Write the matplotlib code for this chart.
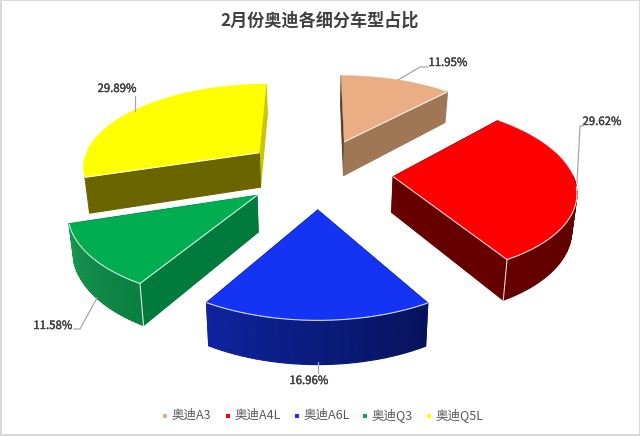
import numpy as np
import matplotlib
matplotlib.use('Agg')
import matplotlib.pyplot as plt
import matplotlib.patheffects as pe
from matplotlib.patches import Polygon, Rectangle

plt.rcParams['font.family'] = ['Noto Sans CJK SC', 'DejaVu Sans']

title = '2月份奥迪各细分车型占比'
names = ['奥迪A3', '奥迪A4L', '奥迪A6L', '奥迪Q3', '奥迪Q5L']
shares = [11.95, 29.62, 16.96, 11.58, 29.89]

top_colors = ['#EBAD83', '#FF0000', '#1433F2', '#00AD50', '#FFFF00']
side_colors = ['#A07755', '#660000', '#0B1F8E', '#007B3C', '#6B6500']
arc_first = ['#A07755', '#5C0000', '#06135C', '#0A7F40', '#C9C600']
arc_last = ['#A07755', '#640000', '#0F239E', '#179550', '#C9C600']
back_colors = ['#5A3F2C', '#660000', '#0B1F8E', '#007B3C', '#C9C600']

# perspective of the chart floor, in pixels
CX, CY, F, G, A = 318.0, 172.8, 179.0, 83.4, 0.139
EXPLODE = 0.42
DEPTH = 35.5
SHRINK = 0.02


def project(x, y, low=False):
    w = 1 + A * y
    sx = F * x / w
    sy = CY - G * y / w
    if low:
        return CX + sx * (1 - SHRINK), sy + DEPTH / w
    return CX + sx, sy


def mix(c1, c2, t):
    a = np.array(matplotlib.colors.to_rgb(c1))
    b = np.array(matplotlib.colors.to_rgb(c2))
    return tuple(a + (b - a) * t)


fig = plt.figure(figsize=(6.4, 4.36), dpi=100)
ax = fig.add_axes([0, 0, 1, 1])
ax.set_xlim(0, 640)
ax.set_ylim(436, 0)
ax.axis('off')

ax.add_patch(Rectangle((0.5, 0.5), 639, 434.5, fc='white', ec='#D9D9D9', lw=1.5))


def wall(points, color, z):
    pts = [project(*p) for p in points] + [project(*p, low=True) for p in points[::-1]]
    ax.add_patch(Polygon(pts, fc=color, ec=color, lw=0.8, joinstyle='round', zorder=z))


def edge(p, q, z):
    a, b = project(*p), project(*q)
    ax.plot([a[0], b[0]], [a[1], b[1]], color='#FFFFFF', alpha=0.85, lw=0.8,
            solid_capstyle='butt', zorder=z)


edges = np.cumsum([0] + shares) / 100 * 2 * np.pi
order = [0, 4, 1, 3, 2]

for rank, i in enumerate(order):
    t0, t1 = edges[i], edges[i + 1]
    mid = (t0 + t1) / 2
    ox, oy = EXPLODE * np.sin(mid), EXPLODE * np.cos(mid)
    th = np.linspace(t0, t1, 61)
    arc = [(ox + np.sin(t), oy + np.cos(t)) for t in th]
    apex = (ox, oy)
    z = 10 + rank * 10

    start_front = np.sin(t0) < -1e-6
    end_front = np.sin(t1) > 1e-6

    # back walls first, the top face hides most of them
    if not start_front:
        wall([apex, arc[0]], back_colors[i], z)
    if not end_front:
        wall([apex, arc[-1]], back_colors[i], z)
    if start_front:
        wall([apex, arc[0]], side_colors[i], z + 1)
    if end_front:
        wall([apex, arc[-1]], side_colors[i], z + 1)

    # outer wall in chunks for the gradient; Q5L shows none of it in the original
    if i != 4:
        for k in range(0, 60, 2):
            if np.cos(th[k + 1]) > 0:
                continue
            wall(arc[k:k + 3], mix(arc_first[i], arc_last[i], k / 58), z + 1)

    top = [project(*apex)] + [project(*p) for p in arc]
    ax.add_patch(Polygon(top, fc=top_colors[i], ec=top_colors[i], lw=0.3, zorder=z + 2))

    # light edges where a wall faces the viewer
    if start_front:
        edge(apex, arc[0], z + 3)
    if end_front:
        edge(apex, arc[-1], z + 3)
    if i != 4:
        for k in range(len(arc) - 1):
            if np.cos(th[k]) < -0.1:
                edge(arc[k], arc[k + 1], z + 3)
        for corner, front in ((arc[0], start_front), (arc[-1], end_front)):
            if front and corner[1] - oy < -0.1:
                a, b = project(*corner), project(*corner, low=True)
                ax.plot([a[0], b[0]], [a[1], b[1]], color='white', alpha=0.85, lw=0.8, zorder=z + 3)

# data labels, with leader lines
label_xy = [(448, 63), (602, 122), (309, 381), (53, 326), (117, 89)]
leaders = [
    [(398, 80), (420, 67), (428, 67)],
    [(577, 183), (580, 126), (583, 126)],
    [(318, 362), (318, 373)],
    [(97, 298), (80, 329), (74, 329)],
    [(135, 111), (135, 96)],
]
semibold = [pe.withStroke(linewidth=0.3, foreground='#404040')]
for i in range(5):
    xs, ys = zip(*leaders[i])
    ax.plot(xs, ys, color='#A6A6A6', lw=0.9, zorder=100)
    ax.text(label_xy[i][0], label_xy[i][1], '{:.2f}%'.format(shares[i]), ha='center', va='center',
            fontsize=8.2, color='#404040', path_effects=semibold, zorder=101)

ax.text(320, 21, title, ha='center', va='center', fontsize=12.3, fontweight='bold', color='#404040')

# legend
marker_x = [165, 228, 297, 365, 429]
text_x = [172, 235, 304, 372, 436]
for i in range(5):
    ax.plot(marker_x[i], 416, marker='s', ms=3.4, mew=0, color=top_colors[i])
    ax.text(text_x[i], 415.5, names[i], ha='left', va='center', fontsize=9, color='#595959')

fig.savefig('out.png', dpi=100)
